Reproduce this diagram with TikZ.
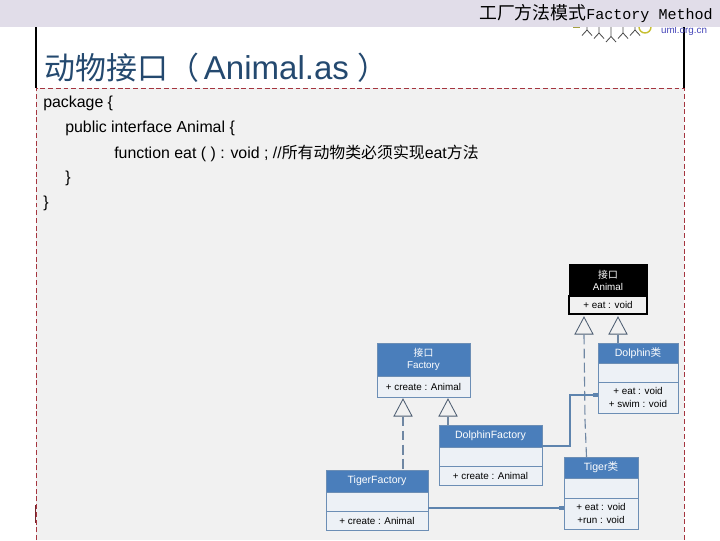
\documentclass[tikz,border=0pt]{standalone}
\usepackage{fontspec}
\setmainfont{Liberation Sans}
\newfontfamily\cjk{Noto Sans CJK SC}
\newfontfamily\monofont{Liberation Mono}
\usepackage{xcolor}
\usetikzlibrary{shapes,shapes.geometric,arrows,arrows.meta,positioning,calc}
\definecolor{bandcol}{HTML}{E1DDE9}
\definecolor{panelcol}{HTML}{F1F1F1}
\definecolor{dashcol}{HTML}{A5353F}
\definecolor{titlecol}{HTML}{24496F}
\definecolor{headcol}{HTML}{4A7EBB}
\definecolor{edgecol}{HTML}{6C8EB5}
\definecolor{bodycol}{HTML}{EDF1F6}
\definecolor{linkcol}{HTML}{5E84AE}
\definecolor{realcol}{HTML}{6F87A3}

\begin{document}
\begin{tikzpicture}[
    x=0.025cm, y=-0.025cm,
    umltxt/.style={font=\fontsize{7}{8.6}\selectfont, align=center, inner sep=0pt},
    head/.style={rectangle, draw=edgecol, fill=headcol, text=white, umltxt, minimum width=#1},
    bigname/.style={font=\fontsize{7.5}{8.6}\selectfont},
    blackhead/.style={rectangle, draw=black, fill=black, text=white, umltxt, minimum width=#1},
    part/.style={rectangle, draw=edgecol, fill=bodycol, umltxt, minimum width=#1},
    blackpart/.style={rectangle, draw=black, thick, fill=panelcol, umltxt, minimum width=#1},
    tri/.style={isosceles triangle, isosceles triangle stretches, shape border rotate=90, draw=realcol!70!black,
                semithick, minimum width=0.45cm, minimum height=0.425cm, inner sep=0pt, anchor=apex},
    real/.style={draw=realcol, line width=0.8pt, dash pattern=on 7pt off 3pt},
    link/.style={-{Square[length=3.5pt,width=3.5pt]}, draw=linkcol, line width=1.9pt},
    code/.style={font=\fontsize{11.3}{12}\selectfont, anchor=west, inner sep=0pt},
  ]
  \useasboundingbox (0,0) rectangle (720,540);

  % Panel
  \fill[panelcol] (36,88) rectangle (684,540);
  \draw[dashcol, semithick, dash pattern=on 3.5pt off 2pt] (36,540) -- (36,88) -- (684,88) -- (684,540);
  \draw[black, thick] (36,27) -- (36,88);
  \draw[black, thick] (684,27) -- (684,88);
  \draw[dashcol!70!black, line width=1.2pt] (35.5,505) -- (35.5,523);

  % Logo
  \draw[yellow!75!black, line width=1pt] (651,27) arc (0:180:6);
  \draw[yellow!60!black, semithick] (573,27.5) -- (580,27.5);
  \foreach \x/\y in {587/30, 599/33, 611/36.5, 623/33, 635/30} {
    \draw[black!70, semithick] (\x,27) -- (\x,\y) (\x-5,\y+5.5) -- (\x,\y) -- (\x+5,\y+5.5);
  }
  \node[font=\fontsize{7}{8}\selectfont, text=blue!45!gray, inner sep=0pt] (site) at (684,31) {uml.org.cn};

  % Header band
  \fill[bandcol] (0,0) rectangle (720,27);
  \node[anchor=east, inner sep=0pt] (band) at (713,14) {{\cjk\fontsize{12.7}{14}\selectfont 工厂方法模式}{\monofont\fontsize{10.7}{14}\selectfont Factory Method}};

  % Title
  \node[anchor=west, inner sep=0pt, text=titlecol, font=\fontsize{23.5}{26}\selectfont] (title) at (44,68)
    {{\cjk\fontsize{22}{26}\selectfont 动物接口（}\hspace{3.5pt}Animal.as\hspace{6pt}{\cjk\fontsize{22}{26}\selectfont ）}};

  % Code lines
  \node[code] (line1) at (43,103) {package \{};
  \node[code] (line2) at (65,128) {public interface Animal \{};
  \node[code] (line3) at (114,153) {function eat ( ) : void ; //{\cjk 所有动物类必须实现}eat{\cjk 方法}};
  \node[code] (line4) at (65,178) {\}};
  \node[code] (line5) at (43,203) {\}};

  % Animal interface
  \node[blackhead=1.95cm, minimum height=0.8cm] (animal) at (608,280) {{\cjk 接口}\\Animal};
  \node[blackpart=1.95cm, minimum height=0.45cm] (animalops) at (608,305) {+ eat : void};

  % Dolphin class
  \node[head=2cm, bigname, minimum height=0.5cm] (dolphin) at (638,353) {Dolphin{\cjk 类}};
  \node[part=2cm, minimum height=0.475cm] (dolphinmid) at (638,372.5) {};
  \node[part=2cm, minimum height=0.775cm] (dolphinops) at (638,397.5) {+ eat : void\\+ swim : void};

  % Factory interface
  \node[head=2.325cm, minimum height=0.825cm] (factory) at (423.5,359.5) {{\cjk 接口}\\Factory};
  \node[part=2.325cm, minimum height=0.525cm] (factoryops) at (423.5,386.5) {+ create : Animal};

  % DolphinFactory
  \node[head=2.575cm, bigname, minimum height=0.55cm] (dfactory) at (490.5,436) {DolphinFactory};
  \node[part=2.575cm, minimum height=0.475cm] (dfactorymid) at (490.5,456.5) {};
  \node[part=2.575cm, minimum height=0.475cm] (dfactoryops) at (490.5,475.5) {+ create : Animal};

  % TigerFactory
  \node[head=2.55cm, bigname, minimum height=0.55cm] (tfactory) at (377,481) {TigerFactory};
  \node[part=2.55cm, minimum height=0.475cm] (tfactorymid) at (377,501.5) {};
  \node[part=2.55cm, minimum height=0.475cm] (tfactoryops) at (377,520.5) {+ create : Animal};

  % Tiger class
  \node[head=1.85cm, bigname, minimum height=0.525cm] (tiger) at (601,467.5) {Tiger{\cjk 类}};
  \node[part=1.85cm, minimum height=0.5cm] (tigermid) at (601,488) {};
  \node[part=1.85cm, minimum height=0.775cm] (tigerops) at (601,513.5) {+ eat : void\\+run : void};

  % Triangles
  \node[tri] (triTiger) at (584,316) {};
  \node[tri] (triDolphin) at (618,316) {};
  \node[tri] (triTF) at (403,398) {};
  \node[tri] (triDF) at (448,398) {};

  % Realization lines
  \coordinate (tigerbend) at (585,420);
  \coordinate (tigertop) at (586.5,457);
  \draw[real] (triTiger.lower side) -- (tigerbend) -- (tigertop);
  \draw[real, solid] (triDolphin.lower side) -- (triDolphin.lower side |- dolphin.north);
  \draw[real] (triTF.lower side) -- (triTF.lower side |- tfactory.north);
  \draw[real] (triDF.lower side) -- (triDF.lower side |- dfactory.north);

  % Creation links
  \coordinate (dolphinport) at (598,395);
  \coordinate (tigerport) at (564,508);
  \draw[link] (dfactory.east |- 0,446) -| (570,395) -- (dolphinport);
  \draw[link] (tfactoryops.east |- tigerport) -- (tigerport);
\end{tikzpicture}
\end{document}
